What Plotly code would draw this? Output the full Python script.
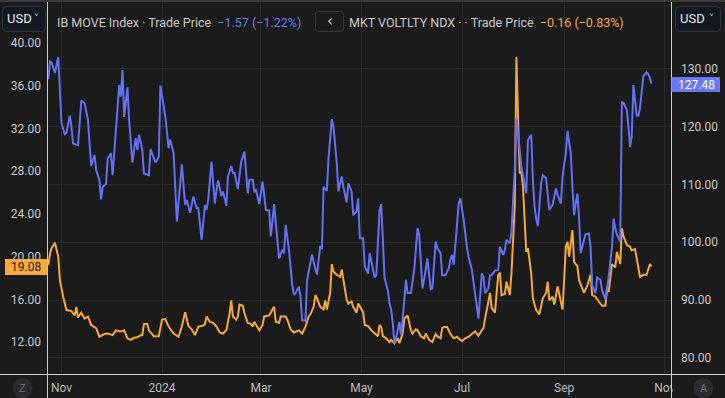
import plotly.graph_objects as go

# ---------------- data ----------------
move_dates = [
"2023-10-24","2023-10-25","2023-10-26","2023-10-28","2023-10-30","2023-11-01","2023-11-03","2023-11-04","2023-11-06","2023-11-07",
"2023-11-08","2023-11-11","2023-11-13","2023-11-15","2023-11-17","2023-11-19","2023-11-21","2023-11-22","2023-11-24","2023-11-25",
"2023-11-26","2023-11-28","2023-11-29","2023-12-01","2023-12-02","2023-12-04","2023-12-06","2023-12-07","2023-12-08","2023-12-09",
"2023-12-11","2023-12-12","2023-12-14","2023-12-16","2023-12-17","2023-12-18","2023-12-20","2023-12-21","2023-12-24","2023-12-25",
"2023-12-28","2023-12-30","2023-12-31","2024-01-03","2024-01-05","2024-01-06","2024-01-08","2024-01-10","2024-01-13","2024-01-15",
"2024-01-16","2024-01-18","2024-01-20","2024-01-22","2024-01-23","2024-01-25","2024-01-27","2024-01-28","2024-01-29","2024-01-31",
"2024-02-02","2024-02-03","2024-02-04","2024-02-06","2024-02-07","2024-02-09","2024-02-10","2024-02-12","2024-02-13","2024-02-14",
"2024-02-16","2024-02-18","2024-02-20","2024-02-22","2024-02-23","2024-02-25","2024-02-26","2024-02-27","2024-02-29","2024-03-02",
"2024-03-04","2024-03-06","2024-03-07","2024-03-09","2024-03-11","2024-03-12","2024-03-14","2024-03-15","2024-03-16","2024-03-18",
"2024-03-20","2024-03-21","2024-03-22","2024-03-24","2024-03-25","2024-03-26","2024-03-28","2024-03-29","2024-04-01","2024-04-02",
"2024-04-04","2024-04-06","2024-04-07","2024-04-08","2024-04-10","2024-04-11","2024-04-13","2024-04-14","2024-04-16","2024-04-17",
"2024-04-19","2024-04-20","2024-04-22","2024-04-23","2024-04-25","2024-04-26","2024-04-28","2024-04-29","2024-04-30","2024-05-02",
"2024-05-03","2024-05-05","2024-05-06","2024-05-08","2024-05-09","2024-05-10","2024-05-12","2024-05-13","2024-05-15","2024-05-17",
"2024-05-18","2024-05-19","2024-05-20","2024-05-21","2024-05-22","2024-05-24","2024-05-25","2024-05-26","2024-05-28","2024-05-29",
"2024-05-31","2024-06-02","2024-06-04","2024-06-05","2024-06-06","2024-06-07","2024-06-09","2024-06-10","2024-06-12","2024-06-13",
"2024-06-15","2024-06-16","2024-06-18","2024-06-19","2024-06-21","2024-06-23","2024-06-24","2024-06-25","2024-06-26","2024-06-28",
"2024-06-29","2024-06-30","2024-07-02","2024-07-04","2024-07-05","2024-07-07","2024-07-09","2024-07-11","2024-07-13","2024-07-14",
"2024-07-15","2024-07-17","2024-07-18","2024-07-19","2024-07-21","2024-07-23","2024-07-24","2024-07-26","2024-07-27","2024-07-28",
"2024-07-30","2024-07-31","2024-08-02","2024-08-03","2024-08-04","2024-08-06","2024-08-07","2024-08-09","2024-08-10","2024-08-12",
"2024-08-13","2024-08-14","2024-08-15","2024-08-16","2024-08-18","2024-08-19","2024-08-21","2024-08-22","2024-08-23","2024-08-25",
"2024-08-27","2024-08-28","2024-08-30","2024-08-31","2024-09-02","2024-09-03","2024-09-05","2024-09-06","2024-09-07","2024-09-08",
"2024-09-09","2024-09-10","2024-09-11","2024-09-13","2024-09-14","2024-09-16","2024-09-17","2024-09-18","2024-09-20","2024-09-21",
"2024-09-23","2024-09-24","2024-09-26","2024-09-27","2024-09-28","2024-09-30","2024-10-01","2024-10-02","2024-10-03","2024-10-05",
"2024-10-06","2024-10-07","2024-10-09","2024-10-10","2024-10-11","2024-10-12","2024-10-13","2024-10-15","2024-10-16","2024-10-17",
"2024-10-19","2024-10-21","2024-10-22","2024-10-23","2024-10-24",
]
move_values = [
128.2,131.3,131.1,129.3,132.0,120.6,118.7,118.9,121.9,120.0,
117.1,116.8,124.5,124.1,121.2,113.2,115.1,112.5,110.8,107.4,
109.6,110.1,114.5,115.4,111.6,118.9,127.2,125.2,129.8,121.7,
126.8,121.2,113.8,118.0,116.0,118.6,116.0,111.9,111.6,116.1,
113.8,114.8,127.1,121.7,116.3,117.8,115.4,103.6,113.5,106.5,
107.3,105.1,107.9,105.9,105.9,100.4,106.4,105.6,107.3,113.9,
106.7,109.0,110.7,108.0,108.8,106.3,111.4,113.2,112.0,112.0,
109.2,113.9,115.7,108.5,110.8,110.8,108.8,109.0,106.6,110.5,
105.6,105.5,101.0,106.6,99.8,97.2,98.7,98.1,103.0,98.7,
92.6,90.9,91.2,92.3,90.6,86.5,86.4,93.5,97.9,96.5,
94.4,99.4,98.8,109.6,108.9,114.5,121.3,120.0,113.7,108.8,
111.4,109.6,106.9,110.2,108.8,104.7,105.3,107.6,100.7,100.7,
95.8,94.6,98.1,95.2,93.9,94.3,105.6,106.6,93.8,91.7,
89.4,88.4,86.0,82.5,83.4,86.2,83.9,86.8,93.5,91.2,
91.2,95.2,102.4,101.3,96.4,92.0,95.2,97.2,91.9,92.0,
100.1,99.0,98.1,94.3,94.3,95.5,97.1,97.8,96.1,102.7,
106.7,107.6,103.9,99.0,97.5,95.2,91.4,86.8,94.6,94.0,
91.2,92.0,94.3,94.3,95.1,95.2,99.2,97.8,98.7,100.4,
99.8,101.8,112.5,121.5,118.9,113.1,111.6,108.5,117.7,118.6,
110.8,106.2,104.1,102.8,110.2,111.6,111.1,108.5,105.6,106.5,
109.3,108.2,106.7,111.4,115.4,119.3,115.4,109.6,104.7,106.7,
108.4,104.4,98.1,100.4,101.4,101.5,99.2,92.6,91.2,93.9,
93.5,91.7,90.1,92.0,94.0,99.2,104.1,102.4,101.3,100.1,
124.3,124.1,122.9,120.0,116.5,118.4,127.2,121.9,121.9,123.2,
128.7,129.4,129.1,128.4,127.48,
]

vxn_dates = [
"2023-10-24","2023-10-25","2023-10-26","2023-10-28","2023-10-30","2023-10-31","2023-11-02","2023-11-04","2023-11-07","2023-11-09",
"2023-11-10","2023-11-11","2023-11-13","2023-11-15","2023-11-17","2023-11-19","2023-11-22","2023-11-24","2023-11-27","2023-11-29",
"2023-12-02","2023-12-04","2023-12-07","2023-12-09","2023-12-11","2023-12-13","2023-12-15","2023-12-17","2023-12-19","2023-12-20",
"2023-12-21","2023-12-23","2023-12-24","2023-12-27","2023-12-30","2024-01-01","2024-01-03","2024-01-05","2024-01-08","2024-01-11",
"2024-01-13","2024-01-15","2024-01-17","2024-01-19","2024-01-21","2024-01-23","2024-01-25","2024-01-27","2024-01-28","2024-01-30",
"2024-02-01","2024-02-03","2024-02-05","2024-02-07","2024-02-09","2024-02-11","2024-02-12","2024-02-13","2024-02-15","2024-02-16",
"2024-02-17","2024-02-19","2024-02-20","2024-02-22","2024-02-24","2024-02-25","2024-02-26","2024-02-28","2024-02-29","2024-03-02",
"2024-03-03","2024-03-06","2024-03-07","2024-03-09","2024-03-10","2024-03-12","2024-03-13","2024-03-16","2024-03-17","2024-03-19",
"2024-03-21","2024-03-23","2024-03-24","2024-03-26","2024-03-28","2024-03-30","2024-03-31","2024-04-02","2024-04-03","2024-04-04",
"2024-04-06","2024-04-08","2024-04-09","2024-04-10","2024-04-12","2024-04-13","2024-04-14","2024-04-16","2024-04-18","2024-04-19",
"2024-04-22","2024-04-23","2024-04-25","2024-04-26","2024-04-28","2024-04-29","2024-05-02","2024-05-03","2024-05-05","2024-05-07",
"2024-05-09","2024-05-11","2024-05-12","2024-05-13","2024-05-14","2024-05-16","2024-05-18","2024-05-19","2024-05-21","2024-05-23",
"2024-05-24","2024-05-26","2024-05-27","2024-05-29","2024-05-31","2024-06-01","2024-06-03","2024-06-04","2024-06-06","2024-06-08",
"2024-06-09","2024-06-11","2024-06-13","2024-06-15","2024-06-16","2024-06-18","2024-06-19","2024-06-20","2024-06-22","2024-06-24",
"2024-06-26","2024-06-28","2024-06-30","2024-07-01","2024-07-03","2024-07-05","2024-07-07","2024-07-09","2024-07-10","2024-07-11",
"2024-07-13","2024-07-14","2024-07-15","2024-07-17","2024-07-18","2024-07-19","2024-07-21","2024-07-22","2024-07-23","2024-07-24",
"2024-07-25","2024-07-27","2024-07-28","2024-07-30","2024-07-31","2024-08-02","2024-08-03","2024-08-04","2024-08-05","2024-08-06",
"2024-08-07","2024-08-09","2024-08-10","2024-08-12","2024-08-13","2024-08-15","2024-08-17","2024-08-19","2024-08-21","2024-08-22",
"2024-08-23","2024-08-25","2024-08-26","2024-08-28","2024-08-30","2024-08-31","2024-09-02","2024-09-03","2024-09-04","2024-09-06",
"2024-09-07","2024-09-09","2024-09-10","2024-09-13","2024-09-15","2024-09-17","2024-09-18","2024-09-20","2024-09-22","2024-09-24",
"2024-09-26","2024-09-27","2024-09-28","2024-09-30","2024-10-02","2024-10-03","2024-10-05","2024-10-06","2024-10-07","2024-10-09",
"2024-10-11","2024-10-12","2024-10-14","2024-10-15","2024-10-17","2024-10-19","2024-10-21","2024-10-23","2024-10-24",
]
vxn_values = [
19.2,20.3,20.8,21.3,20.0,17.8,16.25,15.0,14.9,14.5,
15.3,14.3,14.75,14.2,14.4,13.6,13.3,12.5,12.75,12.8,
12.65,13.1,13.0,13.1,12.35,12.2,12.4,12.45,12.65,12.65,
13.7,13.7,13.1,12.55,12.55,14.1,14.15,13.45,12.8,12.5,
13.45,14.8,13.5,13.2,12.65,13.45,13.5,13.65,14.4,13.9,
13.8,13.45,12.9,12.8,13.1,14.7,15.9,14.4,14.1,14.4,
15.5,15.4,14.7,13.8,13.7,13.45,13.9,13.3,13.1,13.6,
14.4,14.5,14.8,15.3,13.9,13.8,14.4,14.4,14.1,13.2,
12.9,13.05,13.1,12.8,13.45,14.4,14.6,15.3,16.4,16.1,
15.3,15.05,15.9,15.05,16.6,19.3,18.6,18.3,18.1,18.8,
16.0,15.6,15.8,15.3,14.75,15.6,14.8,13.6,13.5,13.1,
12.8,12.55,13.6,13.4,12.55,12.35,12.0,12.2,11.9,12.35,
11.9,12.8,14.2,14.5,13.1,12.8,13.2,13.1,12.55,12.35,
12.8,12.2,12.0,12.75,12.55,12.35,13.3,13.4,13.4,12.75,
12.35,12.5,12.2,12.1,12.35,12.5,12.75,13.0,12.8,12.6,
13.1,13.3,14.2,15.9,16.6,15.2,14.75,16.6,18.3,18.5,
16.4,16.5,17.65,16.4,18.4,24.7,38.7,33.1,27.8,27.95,
26.5,20.45,20.8,18.4,16.1,15.0,14.6,16.1,16.6,17.65,
15.9,16.25,15.5,17.2,15.6,15.05,20.9,21.4,20.0,22.5,
19.5,19.1,17.8,16.6,17.25,18.3,16.4,16.25,15.8,15.4,
15.4,16.9,16.7,19.3,19.0,20.45,19.3,22.65,21.9,21.1,
20.9,20.6,20.7,19.7,18.1,18.3,18.3,19.3,19.08,
]

x_tick_vals = ["2023-11-01", "2024-01-01", "2024-03-01", "2024-05-01", "2024-07-01", "2024-09-01", "2024-11-01"]
x_tick_text = ["Nov", "2024", "Mar", "May", "Jul", "Sep", "Nov"]
left_ticks = [12, 16, 20, 24, 28, 32, 36, 40]
right_ticks = [80, 90, 100, 110, 120, 130]

move_name = "IB MOVE Index"
vxn_name = "MKT VOLTLTY NDX"
move_change = "\u22121.57 (\u22121.22%)"
vxn_change = "\u22120.16 (\u22120.83%)"

# ---------------- style ----------------
W, H = 725, 398
L, R, T, B = 48, 53, 3, 24
BG = "#1b1b1b"
GRID = "#2c2c2c"
SEP = "#cfcfcf"
BLUE = "#6372f4"
BLUE_TAG = "#6878f6"
ORANGE = "#f5a93c"
TXT = "#c9c9c9"
FONT = "Roboto"

def px(x):
    return (x - L) / (W - L - R)

def py(y):
    return (H - B - y) / (H - T - B)

def rrect(x0, y0, x1, y1, r):
    rx = r / (W - L - R)
    ry = r / (H - T - B)
    a0, a1 = px(x0), px(x1)
    b0, b1 = py(y1), py(y0)  # bottom, top in paper
    return (f"M {a0+rx},{b0} L {a1-rx},{b0} Q {a1},{b0} {a1},{b0+ry} "
            f"L {a1},{b1-ry} Q {a1},{b1} {a1-rx},{b1} L {a0+rx},{b1} "
            f"Q {a0},{b1} {a0},{b1-ry} L {a0},{b0+ry} Q {a0},{b0} {a0+rx},{b0} Z")

fig = go.Figure()
fig.add_trace(go.Scatter(x=vxn_dates, y=vxn_values, mode="lines", name=vxn_name,
                         line=dict(color=ORANGE, width=2), yaxis="y", hoverinfo="skip"))
fig.add_trace(go.Scatter(x=move_dates, y=move_values, mode="lines", name=move_name,
                         line=dict(color=BLUE, width=2), yaxis="y2", hoverinfo="skip"))

shapes = []
# top strip
shapes.append(dict(type="rect", xref="paper", yref="paper", x0=px(0), x1=px(W), y0=py(2), y1=py(0),
                   fillcolor="#3a3a3a", line=dict(width=0), layer="above"))
# cover clipped right part of x labels
shapes.append(dict(type="rect", xref="paper", yref="paper", x0=px(672.5), x1=px(W), y0=py(H), y1=py(374.6),
                   fillcolor=BG, line=dict(width=0), layer="above"))
# separators
shapes.append(dict(type="line", xref="paper", yref="paper", x0=px(0), x1=px(W), y0=py(374.5), y1=py(374.5),
                   line=dict(color=SEP, width=1), layer="above"))
shapes.append(dict(type="line", xref="paper", yref="paper", x0=px(47.5), x1=px(47.5), y0=py(H), y1=py(2),
                   line=dict(color=SEP, width=1), layer="above"))
shapes.append(dict(type="line", xref="paper", yref="paper", x0=px(671.5), x1=px(671.5), y0=py(H), y1=py(2),
                   line=dict(color=SEP, width=1), layer="above"))
# USD buttons
for (x0, x1) in [(2.5, 45.5), (675.5, 720.5)]:
    shapes.append(dict(type="path", xref="paper", yref="paper", path=rrect(x0, 6.5, x1, 31.5, 4),
                       fillcolor="#141821", line=dict(color="#2f3440", width=1), layer="above"))
# "<" button
shapes.append(dict(type="path", xref="paper", yref="paper", path=rrect(315.5, 11.5, 343.5, 31.5, 3),
                   fillcolor=BG, line=dict(color="#3a3a3a", width=1), layer="above"))
# price tags
shapes.append(dict(type="rect", xref="paper", yref="paper", x0=px(5), x1=px(47.5), y0=py(275), y1=py(259),
                   fillcolor=ORANGE, line=dict(width=0), layer="above"))
shapes.append(dict(type="rect", xref="paper", yref="paper", x0=px(671.5), x1=px(720), y0=py(92), y1=py(77),
                   fillcolor=BLUE_TAG, line=dict(width=0), layer="above"))
# corner circles
for cx in (22.5, 703.5):
    shapes.append(dict(type="circle", xref="paper", yref="paper", x0=px(cx - 10), x1=px(cx + 10),
                       y0=py(398), y1=py(378), fillcolor="#2a2b30", line=dict(width=0), layer="above"))

ann = []
def text(x, y, s, color=TXT, size=13, anchor="left", font=FONT):
    ann.append(dict(xref="paper", yref="paper", x=px(x), y=py(y), text=s, showarrow=False,
                    xanchor=anchor, yanchor="middle", font=dict(color=color, size=size, family=font)))

text(5, 19, "USD", color="#e6e8ee", size=13)
text(36.5, 18, "\u02c5", color="#c0c3cc", size=10, anchor="center", font="DejaVu Sans")
text(678, 19, "USD", color="#e6e8ee", size=13)
text(711, 18, "\u02c5", color="#c0c3cc", size=10, anchor="center", font="DejaVu Sans")
text(55, 22, f"{move_name} \u00b7 Trade Price  <span style='color:{BLUE_TAG}'>{move_change}</span>", size=12.5)
text(329.5, 21, "\u2039", color="#d0d0d0", size=15, anchor="center", font="DejaVu Sans")
text(347, 22, f"{vxn_name} \u00b7 \u00b7 Trade Price  <span style='color:{ORANGE}'>{vxn_change}</span>", size=12.5)
text(26, 267, f"{vxn_values[-1]:.2f}", color="#2a1e0c", size=12, anchor="center")
text(696, 84.5, f"{move_values[-1]:.2f}", color="#ffffff", size=12, anchor="center")
text(22.5, 388, "Z", color="#6e7079", size=11, anchor="center")
text(703.5, 388, "A", color="#6e7079", size=11, anchor="center")

fig.update_layout(
    width=W, height=H,
    margin=dict(l=L, r=R, t=T, b=B, pad=0),
    paper_bgcolor=BG, plot_bgcolor=BG,
    showlegend=False, hovermode=False,
    font=dict(family=FONT, color=TXT, size=12),
    xaxis=dict(type="date", range=["2023-10-23 19:00", "2024-11-05 10:00"],
               tickvals=x_tick_vals, ticktext=x_tick_text,
               showgrid=True, gridcolor=GRID, gridwidth=1, zeroline=False,
               showline=False, ticks="", tickfont=dict(color="#bdbdbd", size=12),
               ticklabelstandoff=5),
    yaxis=dict(range=[9.01, 43.75], tickvals=left_ticks, tickformat=".2f",
               showgrid=False, zeroline=False, showline=False, ticks="",
               tickfont=dict(color=TXT, size=12), ticklabelstandoff=6, side="left"),
    yaxis2=dict(range=[77.2, 141.4], tickvals=right_ticks, tickformat=".2f",
                overlaying="y", side="right", showgrid=True, gridcolor=GRID, gridwidth=1,
                zeroline=False, showline=False, ticks="",
                tickfont=dict(color=TXT, size=12), ticklabelstandoff=8),
    shapes=shapes, annotations=ann,
)

fig.write_html("out.html", config={"displayModeBar": False},
               post_script="document.body.style.margin='0';document.body.style.padding='0';document.body.style.background='#1b1b1b';")
